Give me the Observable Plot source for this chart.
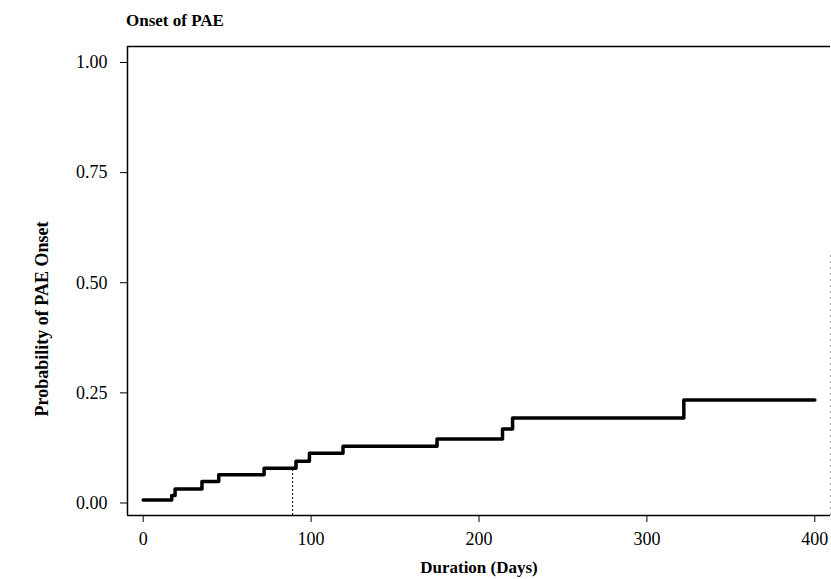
<!DOCTYPE html>
<html>
<head>
<meta charset="utf-8">
<script src="https://cdn.jsdelivr.net/npm/d3@7"></script>
<script src="https://cdn.jsdelivr.net/npm/@observablehq/plot@0.6"></script>
<style>
  html, body { margin: 0; padding: 0; background: #fff; }
  #wrap { position: relative; width: 831px; height: 579px; }
  #title { position: absolute; left: 126px; top: 11px; font: bold 17px "Liberation Serif", serif; color: #000; }
</style>
</head>
<body>
<div id="wrap">
  <div id="title">Onset of PAE</div>
</div>
<script>
// Kaplan-Meier style cumulative probability of PAE onset (step function)
const days = [0, 17, 19, 35, 45, 72, 91, 99, 119, 175, 214, 220, 322, 400];
const prob = [0.007, 0.017, 0.032, 0.049, 0.064, 0.079, 0.095, 0.113, 0.129, 0.145, 0.168, 0.193, 0.234, 0.234];

// Dotted reference marker
const markerDay = [89];
const markerProb = [0.079];

const xTicks = [0, 100, 200, 300, 400];
const yTicks = [0, 0.25, 0.5, 0.75, 1.0];

const xLabel = "Duration (Days)";
const yLabel = "Probability of PAE Onset";

const xDomain = [-9.35, 409.35];
const yDomain = [-0.0284, 1.0363];

const curve = days.map((d, i) => ({day: d, prob: prob[i]}));
const marker = markerDay.map((d, i) => ({day: d, prob: markerProb[i]}));

const chart = Plot.plot({
  width: 831,
  height: 579,
  marginLeft: 127,
  marginRight: 1,
  marginTop: 46,
  marginBottom: 64,
  style: {fontFamily: "Liberation Serif, serif", fontSize: "18px", color: "#000", background: "#fff"},
  x: {domain: xDomain, ticks: xTicks, tickFormat: d => String(d), tickSize: 7, tickPadding: 10, label: null},
  y: {domain: yDomain, ticks: yTicks, tickFormat: d3.format(".2f"), tickSize: 7, tickPadding: 13, label: null},
  marks: [
    // frame
    Plot.ruleX([xDomain[0]], {stroke: "#000", strokeWidth: 1.5}),
    Plot.ruleY([yDomain[1]], {stroke: "#000", strokeWidth: 1.5}),
    Plot.ruleY([yDomain[0]], {stroke: "#000", strokeWidth: 1.5}),
    Plot.ruleX([xDomain[1]], {y1: yDomain[0], y2: 0.57, stroke: "#999", strokeWidth: 1, strokeDasharray: "2,4"}),
    // dotted vertical marker
    Plot.ruleX(marker, {x: "day", y1: yDomain[0], y2: "prob", stroke: "#000", strokeWidth: 1, strokeDasharray: "2,2"}),
    // step curve
    Plot.line(curve, {x: "day", y: "prob", curve: "step-after", stroke: "#000", strokeWidth: 3.5}),
    // axis titles
    Plot.text([xLabel], {frameAnchor: "bottom", dy: 52, text: d => d, fontWeight: "bold", fontSize: 17, lineAnchor: "middle", textAnchor: "middle"}),
    Plot.text([yLabel], {frameAnchor: "left", dx: -85, dy: 38, rotate: -90, text: d => d, fontWeight: "bold", fontSize: 18, lineAnchor: "middle", textAnchor: "middle"})
  ]
});
document.getElementById("wrap").appendChild(chart);
</script>
</body>
</html>
